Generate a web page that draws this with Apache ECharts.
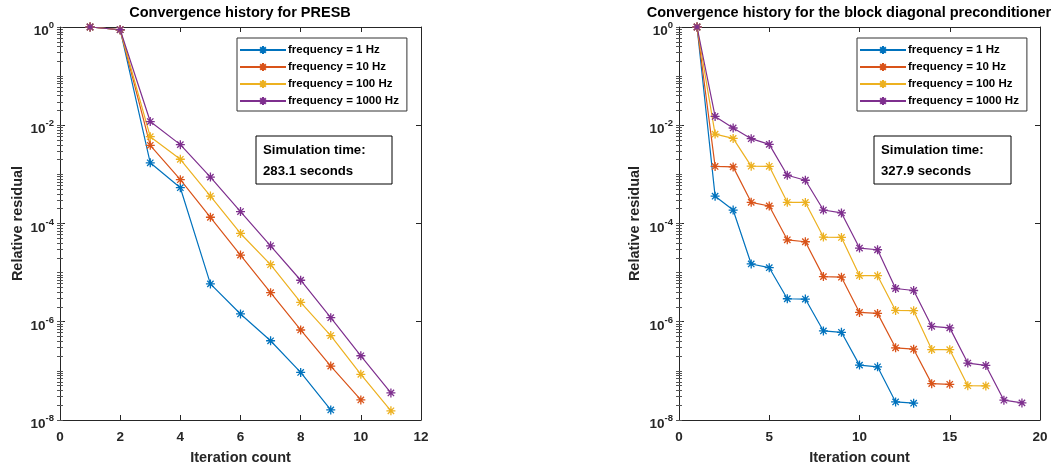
<!DOCTYPE html>
<html><head><meta charset="utf-8">
<script src="https://cdn.jsdelivr.net/npm/echarts@6/dist/echarts.min.js"></script>
<style>html,body{margin:0;padding:0;background:#fff}#c{width:1055px;height:470px}</style>
</head><body><div id="c"></div><script>
// ---- data ----
const seriesNames = ['frequency = 1 Hz', 'frequency = 10 Hz', 'frequency = 100 Hz', 'frequency = 1000 Hz'];
const colors = ['#0072BD', '#D95319', '#EDB120', '#7E2F8E'];
// PRESB (iteration 1, 2, 3, ...)
const presb1Hz    = [1, 0.88, 1.72e-3, 5.35e-4, 5.9e-6, 1.44e-6, 4.1e-7, 9.3e-8, 1.6e-8];
const presb10Hz   = [1, 0.88, 3.9e-3, 7.8e-4, 1.34e-4, 2.28e-5, 3.9e-6, 6.8e-7, 1.25e-7, 2.56e-8];
const presb100Hz  = [1, 0.88, 5.85e-3, 2.03e-3, 3.62e-4, 6.27e-5, 1.45e-5, 2.47e-6, 5.23e-7, 8.5e-8, 1.54e-8];
const presb1000Hz = [1, 0.88, 1.19e-2, 4.03e-3, 8.8e-4, 1.75e-4, 3.52e-5, 7.0e-6, 1.21e-6, 2.03e-7, 3.56e-8];
// block diagonal preconditioner
const bd1Hz    = [1, 3.6e-4, 1.88e-4, 1.5e-5, 1.26e-5, 2.94e-6, 2.9e-6, 6.5e-7, 6.1e-7, 1.31e-7, 1.21e-7, 2.33e-8, 2.2e-8];
const bd10Hz   = [1, 1.45e-3, 1.42e-3, 2.7e-4, 2.27e-4, 4.65e-5, 4.25e-5, 8.3e-6, 8.07e-6, 1.55e-6, 1.48e-6, 2.95e-7, 2.76e-7, 5.5e-8, 5.33e-8];
const bd100Hz  = [1, 6.6e-3, 5.4e-3, 1.47e-3, 1.46e-3, 2.7e-4, 2.68e-4, 5.3e-5, 5.2e-5, 8.7e-6, 8.65e-6, 1.7e-6, 1.68e-6, 2.72e-7, 2.7e-7, 5.0e-8, 4.95e-8];
const bd1000Hz = [1, 1.51e-2, 8.8e-3, 5.33e-3, 4.08e-3, 9.6e-4, 7.6e-4, 1.88e-4, 1.64e-4, 3.16e-5, 2.92e-5, 4.75e-6, 4.33e-6, 8.07e-7, 7.5e-7, 1.44e-7, 1.29e-7, 2.53e-8, 2.23e-8];
const titles = ['Convergence history for PRESB', 'Convergence history for the block diagonal preconditioner'];
const simTexts = ['Simulation time:\n283.1 seconds', 'Simulation time:\n327.9 seconds'];
const xMaxes = [12, 20];
const xIntervals = [2, 5];
const yMajorExps = [-8, -6, -4, -2, 0];
const xName = 'Iteration count';
const yName = 'Relative residual';

// ---- helpers ----
const FONT = 'Liberation Sans, Arial, Helvetica, sans-serif';
const AXC = '#262626';
const minorVals = [];
for (let k = -8; k < 0; k++) for (let m = 1; m <= 9; m++) minorVals.push(m * Math.pow(10, k));
minorVals.push(1);
const majorVals = yMajorExps.map(e => Math.pow(10, e));
const star = 'path://M0,-10L0,10M-10,0L10,0M-7.07,-7.07L7.07,7.07M-7.07,7.07L7.07,-7.07';

const grids = [
  {left: 60, right: 634, top: 27, bottom: 48},
  {left: 679, right: 15, top: 27, bottom: 48}
];
const xAxes = [], yAxes = [];
for (let g = 0; g < 2; g++) {
  const base = {gridIndex: g, type: 'value', min: 0, max: xMaxes[g], interval: xIntervals[g], splitLine: {show: false},
    axisLine: {show: true, onZero: false, lineStyle: {color: AXC, width: 1}},
    axisTick: {show: true, inside: true, length: 5, lineStyle: {color: AXC}}};
  xAxes.push(Object.assign({}, base, {position: 'bottom', name: xName, nameLocation: 'middle', nameGap: 30,
    nameTextStyle: {fontFamily: FONT, fontWeight: 'bold', fontSize: 14.5, color: AXC},
    axisLabel: {fontFamily: FONT, fontWeight: 'bold', fontSize: 13.5, color: AXC, margin: 10}}));
  xAxes.push(Object.assign({}, base, {position: 'top', axisLabel: {show: false}}));
  const yb = {gridIndex: g, type: 'log', logBase: 10, min: 1e-8, max: 1, splitLine: {show: false},
    axisLine: {show: true, onZero: false, lineStyle: {color: AXC, width: 1}}};
  // left major
  yAxes.push(Object.assign({}, yb, {position: 'left', interval: 2, name: yName, nameLocation: 'middle', nameGap: g === 0 ? 35 : 37,
    nameTextStyle: {fontFamily: FONT, fontWeight: 'bold', fontSize: 14.5, color: AXC},
    axisTick: {show: true, inside: true, length: 5, customValues: majorVals, lineStyle: {color: AXC}},
    axisLabel: {show: true, margin: 6, customValues: majorVals, padding: [5, 0, 0, 0],
      formatter: v => '{b|10}{s|' + Math.round(Math.log10(v)) + '}',
      rich: {b: {fontFamily: FONT, fontWeight: 'bold', fontSize: 13.5, color: AXC, verticalAlign: 'bottom', lineHeight: 18},
             s: {fontFamily: FONT, fontWeight: 'bold', fontSize: 9.5, color: AXC, verticalAlign: 'top', lineHeight: 18}}}}));
  // left minor
  yAxes.push(Object.assign({}, yb, {position: 'left', axisLine: {show: false}, axisLabel: {show: false},
    axisTick: {show: true, inside: true, length: 3, customValues: minorVals, lineStyle: {color: '#555'}}}));
  // right major
  yAxes.push(Object.assign({}, yb, {position: 'right', axisLabel: {show: false},
    axisTick: {show: true, inside: true, length: 5, customValues: majorVals, lineStyle: {color: AXC}}}));
  // right minor
  yAxes.push(Object.assign({}, yb, {position: 'right', axisLine: {show: false}, axisLabel: {show: false},
    axisTick: {show: true, inside: true, length: 3, customValues: minorVals, lineStyle: {color: '#555'}}}));
}

function mk(name, color, arr, g) {
  return {name, type: 'line', xAxisIndex: g * 2, yAxisIndex: g * 4,
    data: arr.map((v, i) => [i + 1, v]),
    symbol: star, symbolSize: 9, symbolKeepAspect: true,
    lineStyle: {color, width: 1.2},
    itemStyle: {color, borderColor: color, borderWidth: 1.3},
    emphasis: {disabled: true}, z: 3};
}
const presbSets = [presb1Hz, presb10Hz, presb100Hz, presb1000Hz];
const bdSets = [bd1Hz, bd10Hz, bd100Hz, bd1000Hz];
const series = [];
presbSets.forEach((a, i) => series.push(mk(seriesNames[i], colors[i], a, 0)));
bdSets.forEach((a, i) => series.push(mk(seriesNames[i], colors[i], a, 1)));

const legendBase = {orient: 'vertical', top: 38, padding: [6, 8, 4, 2], itemGap: 5, itemWidth: 46, itemHeight: 10,
  borderColor: '#333', borderWidth: 1, backgroundColor: '#fff', selectedMode: false, data: seriesNames,
  textStyle: {fontFamily: FONT, fontWeight: 'bold', fontSize: 11.5, color: '#000', padding: [0, 0, 0, -3]}};

const option = {
  animation: false,
  backgroundColor: '#fff',
  title: [
    {text: titles[0], left: 240, top: 5, textAlign: 'center', padding: 0,
      textStyle: {fontFamily: FONT, fontWeight: 'bold', fontSize: 14.5, color: '#000'}},
    {text: titles[1], left: 849, top: 5, textAlign: 'center', padding: 0,
      textStyle: {fontFamily: FONT, fontWeight: 'bold', fontSize: 14.5, color: '#000'}}
  ],
  grid: grids,
  xAxis: xAxes,
  yAxis: yAxes,
  legend: [Object.assign({}, legendBase, {left: 237}), Object.assign({}, legendBase, {left: 857})],
  series,
  graphic: [
    {type: 'rect', shape: {x: 256, y: 136, width: 136, height: 48}, style: {fill: '#fff', stroke: '#000', lineWidth: 1}, z: 50},
    {type: 'text', x: 263, y: 140, style: {text: simTexts[0], font: 'bold 13.2px ' + FONT, lineHeight: 21, fill: '#000'}, z: 51},
    {type: 'rect', shape: {x: 874, y: 136, width: 137, height: 48}, style: {fill: '#fff', stroke: '#000', lineWidth: 1}, z: 50},
    {type: 'text', x: 881, y: 140, style: {text: simTexts[1], font: 'bold 13.2px ' + FONT, lineHeight: 21, fill: '#000'}, z: 51}
  ]
};
const chart = echarts.init(document.getElementById('c'), null, {renderer: 'canvas'});
chart.setOption(option);
</script></body></html>
